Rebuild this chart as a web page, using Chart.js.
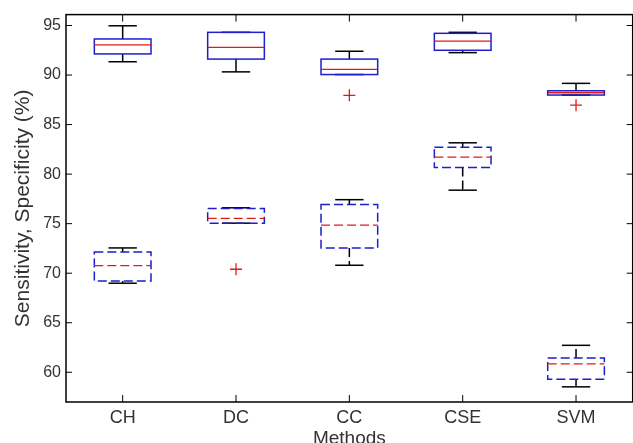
<!DOCTYPE html>
<html>
<head>
<meta charset="utf-8">
<script src="https://cdn.jsdelivr.net/npm/chart.js@4"></script>
<style>
  html, body { margin: 0; padding: 0; background: #fff; overflow: hidden; }
  #wrap { width: 633px; height: 443px; overflow: hidden; }
</style>
</head>
<body>
<div id="wrap"><canvas id="box" width="640" height="450"></canvas></div>
<script>
const methods = ['CH', 'DC', 'CC', 'CSE', 'SVM'];
const yTicks = [60, 65, 70, 75, 80, 85, 90, 95];

// solid boxes (upper group)
const upMin = [91.34, 90.32, 90.05, 92.26, 87.98];
const upQ1 = [92.13, 91.61, 90.05, 92.50, 87.98];
const upMed = [93.05, 92.79, 90.58, 93.42, 88.21];
const upQ3 = [93.64, 94.31, 91.61, 94.21, 88.41];
const upMax = [94.97, 94.31, 92.40, 94.31, 89.16];
const upOutliers = [{x: 'CC', y: 87.95}, {x: 'SVM', y: 86.96}];

// dashed boxes (lower group)
const lowMin = [68.99, 75.05, 70.80, 78.38, 58.53];
const lowQ1 = [69.21, 75.05, 72.55, 80.66, 59.29];
const lowMed = [70.77, 75.54, 74.85, 81.72, 60.84];
const lowQ3 = [72.15, 76.53, 76.93, 82.71, 61.44];
const lowMax = [72.55, 76.60, 77.42, 83.16, 62.72];
const lowOutliers = [{x: 'DC', y: 70.40}];

const blue = 'rgb(30, 30, 205)';
const red = 'rgb(230, 25, 25)';
const textCol = '#333';

function line(ctx, x1, y1, x2, y2) {
  ctx.beginPath();
  ctx.moveTo(x1, y1);
  ctx.lineTo(x2, y2);
  ctx.stroke();
}

function drawBoxes(chart, mins, q1s, meds, q3s, maxs, dash) {
  const ctx = chart.ctx;
  const xs = chart.scales.x;
  const ys = chart.scales.y;
  const half = (xs.getPixelForValue(1) - xs.getPixelForValue(0)) * 0.25;
  ctx.save();
  ctx.lineWidth = 1.5;
  for (let i = 0; i < methods.length; i++) {
    const cx = xs.getPixelForValue(i);
    const yMin = ys.getPixelForValue(mins[i]);
    const yQ1 = ys.getPixelForValue(q1s[i]);
    const yMed = ys.getPixelForValue(meds[i]);
    const yQ3 = ys.getPixelForValue(q3s[i]);
    const yMax = ys.getPixelForValue(maxs[i]);
    // whiskers
    ctx.strokeStyle = '#000';
    ctx.setLineDash(dash);
    if (yMax < yQ3) line(ctx, cx, yQ3, cx, yMax);
    if (yMin > yQ1) line(ctx, cx, yQ1, cx, yMin);
    ctx.setLineDash([]);
    line(ctx, cx - half / 2, yMax, cx + half / 2, yMax);
    line(ctx, cx - half / 2, yMin, cx + half / 2, yMin);
    // box
    ctx.setLineDash(dash);
    ctx.strokeStyle = blue;
    ctx.strokeRect(cx - half, yQ3, half * 2, yQ1 - yQ3);
    // median
    ctx.strokeStyle = red;
    ctx.lineWidth = 1.3;
    line(ctx, cx - half, yMed, cx + half, yMed);
    ctx.lineWidth = 1.5;
  }
  ctx.restore();
}

const boxPlugin = {
  id: 'boxes',
  beforeDatasetsDraw(chart) {
    drawBoxes(chart, upMin, upQ1, upMed, upQ3, upMax, []);
    drawBoxes(chart, lowMin, lowQ1, lowMed, lowQ3, lowMax, [9, 4]);
  },
  afterDraw(chart) {
    const ctx = chart.ctx;
    const a = chart.chartArea;
    const xs = chart.scales.x;
    const ys = chart.scales.y;
    ctx.save();
    ctx.strokeStyle = '#000';
    ctx.lineWidth = 1.5;
    ctx.strokeRect(a.left, a.top, a.right - a.left, a.bottom - a.top);
    ctx.lineWidth = 1;
    for (let i = 0; i < ys.ticks.length; i++) {
      const y = ys.getPixelForValue(ys.ticks[i].value);
      line(ctx, a.left, y, a.left + 6, y);
      line(ctx, a.right, y, a.right - 6, y);
    }
    for (let i = 0; i < methods.length; i++) {
      const x = xs.getPixelForValue(i);
      line(ctx, x, a.bottom, x, a.bottom - 7);
      line(ctx, x, a.top, x, a.top + 7);
    }
    ctx.restore();
  }
};

new Chart(document.getElementById('box'), {
  type: 'line',
  data: {
    labels: methods,
    datasets: [{
      label: 'Outliers',
      data: upOutliers,
      showLine: false,
      pointStyle: 'cross',
      pointRadius: 6,
      pointBorderWidth: 1.3,
      borderColor: red,
      backgroundColor: red
    },
    {
      label: 'Outliers (dashed)',
      data: lowOutliers,
      showLine: false,
      pointStyle: 'cross',
      pointRadius: 6,
      pointBorderWidth: 1.3,
      borderColor: red,
      backgroundColor: red
    }]
  },
  options: {
    responsive: false,
    animation: false,
    devicePixelRatio: 1,
    layout: { padding: { top: 7.5, right: 6.5, bottom: 0, left: 0 } },
    plugins: {
      legend: { display: false },
      tooltip: { enabled: false }
    },
    scales: {
      x: {
        type: 'category',
        offset: true,
        grid: { display: false, drawTicks: false },
        border: { display: false },
        ticks: {
          padding: 5,
          color: textCol,
          font: { family: 'Liberation Sans, Arial, sans-serif', size: 18 }
        },
        title: {
          display: true,
          text: 'Methods',
          color: textCol,
          padding: 0,
          font: { family: 'Liberation Sans, Arial, sans-serif', size: 19 }
        },
        afterFit: (scale) => { scale.height = 48; }
      },
      y: {
        min: 57,
        max: 96.1,
        grid: { display: false, drawTicks: false },
        border: { display: false },
        afterBuildTicks: (scale) => { scale.ticks = yTicks.map(v => ({ value: v })); },
        ticks: {
          padding: 5,
          color: textCol,
          font: { family: 'Liberation Sans, Arial, sans-serif', size: 16 }
        },
        title: {
          display: true,
          text: 'Sensitivity, Specificity (%)',
          color: textCol,
          padding: 11,
          font: { family: 'Liberation Sans, Arial, sans-serif', size: 21 }
        },
        afterFit: (scale) => { scale.width = 66; }
      }
    }
  },
  plugins: [boxPlugin]
});
</script>
</body>
</html>
